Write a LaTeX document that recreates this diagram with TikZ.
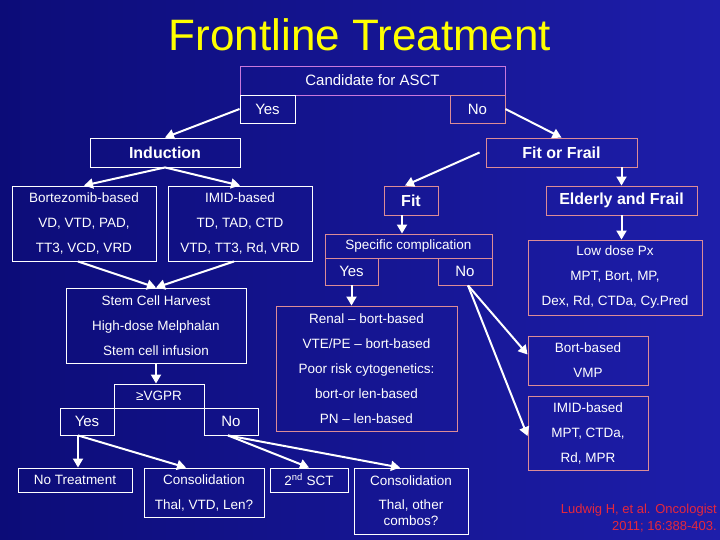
\documentclass[tikz,border=0pt]{standalone}
\usepackage{fontspec}
\setmainfont{Liberation Sans}
\usetikzlibrary{arrows.meta}
\definecolor{bgA}{RGB}{12,12,120}
\definecolor{bgB}{RGB}{30,30,170}
\definecolor{pinkb}{RGB}{220,140,150}
\definecolor{violb}{RGB}{200,120,220}
\definecolor{titley}{RGB}{255,255,0}
\definecolor{citer}{RGB}{230,40,60}
\tikzset{
 bx/.style={draw=white,line width=0.9pt,inner sep=0pt,text=white,align=center,font=\fontsize{13.5}{25}\selectfont},
 pb/.style={bx,draw=pinkb},
 bold/.style={font=\bfseries\fontsize{16}{20}\selectfont},
 arr/.style={draw=white,line width=2pt,-{Triangle[width=10pt,length=9pt]}}
}
\begin{document}
\begin{tikzpicture}[x=1pt,y=-1pt]
\useasboundingbox (0,0) rectangle (720,540);
\shade[left color=bgA,right color=bgB] (0,0) rectangle (720,540);
\node[text=titley,font=\fontsize{44}{48}\selectfont] (title) at (360,35) {Frontline Treatment};
% top
\node[bx,draw=violb,bold,font=\fontsize{15}{20}\selectfont,minimum width=265pt,minimum height=29pt] (cand) at (372.5,80.5) {Candidate for ASCT};
\node[bx,font=\fontsize{15}{20}\selectfont,minimum width=55pt,minimum height=28pt] (yes1) at (267.5,109) {Yes};
\node[pb,font=\fontsize{15}{20}\selectfont,minimum width=55pt,minimum height=28pt] (no1) at (477.5,109) {No};
\node[bx,bold,minimum width=150pt,minimum height=29pt] (ind) at (165,152.5) {Induction};
\node[pb,bold,minimum width=151pt,minimum height=29pt] (fof) at (561.5,152.5) {Fit or Frail};
\node[bx,minimum width=144pt,minimum height=75pt] (bort) at (84,223.5) {Bortezomib-based\\VD, VTD, PAD,\\TT3, VCD, VRD};
\node[bx,minimum width=144pt,minimum height=75pt] (imid) at (240,223.5) {IMID-based\\TD, TAD, CTD\\VTD, TT3, Rd, VRD};
\node[pb,bold,minimum width=54pt,minimum height=29pt] (fit) at (411,200.5) {Fit};
\node[pb,bold,minimum width=151pt,minimum height=29pt] (eld) at (621.5,200.5) {Elderly and Frail};
\node[pb,minimum width=167pt,minimum height=24pt] (spec) at (408.5,246) {Specific complication};
\node[pb,font=\fontsize{15}{20}\selectfont,minimum width=53pt,minimum height=27pt] (yes2) at (351.5,271.5) {Yes};
\node[pb,font=\fontsize{15}{20}\selectfont,minimum width=54pt,minimum height=27pt] (no2) at (465,271.5) {No};
\node[pb,minimum width=174pt,minimum height=75pt] (low) at (615,277.5) {Low dose Px\\MPT, Bort, MP,\\Dex, Rd, CTDa, Cy.Pred};
\node[bx,minimum width=180pt,minimum height=75pt] (stem) at (156,325.5) {Stem Cell Harvest\\High-dose Melphalan\\Stem cell infusion};
\node[pb,minimum width=181pt,minimum height=125pt] (renal) at (366.5,368.5) {Renal -- bort-based\\VTE/PE -- bort-based\\Poor risk cytogenetics:\\bort-or len-based\\PN -- len-based};
\node[bx,minimum width=90pt,minimum height=24pt] (vgpr) at (159,396) {≥VGPR};
\node[bx,font=\fontsize{15}{20}\selectfont,minimum width=54pt,minimum height=27pt] (yes3) at (87,421.5) {Yes};
\node[bx,font=\fontsize{15}{20}\selectfont,minimum width=54pt,minimum height=27pt] (no3) at (231,421.5) {No};
\node[pb,minimum width=120pt,minimum height=49pt] (bb) at (588,360.5) {Bort-based\\VMP};
\node[pb,minimum width=120pt,minimum height=74pt] (ib) at (588,433) {IMID-based\\MPT, CTDa,\\Rd, MPR};
\node[bx,minimum width=114pt,minimum height=24pt] (notr) at (75,480) {No Treatment};
\node[bx,minimum width=120pt,minimum height=49pt] (cons1) at (204,492.5) {Consolidation\\Thal, VTD, Len?};
\node[bx,minimum width=78pt,minimum height=24pt] (sct) at (309,480) {2\textsuperscript{nd} SCT};
\node[bx,font=\fontsize{13.5}{16}\selectfont,minimum width=114pt,minimum height=66pt] (cons2) at (411,501) {Consolidation\\[8pt]Thal, other\\combos?};
\node[text=citer,align=right,anchor=east,inner sep=0pt,font=\fontsize{13}{17}\selectfont] (cite) at (717,518) {Ludwig H, et al. Oncologist\\2011; 16:388-403.};
% arrows
\draw[arr] (yes1.west) -- (ind.north);
\draw[arr] (no1.east) -- (fof.north);
\draw[arr] (ind.south) -- (bort.north);
\draw[arr] (ind.south) -- (imid.north);
\draw[arr] ([xshift=-6pt]bort.south) -- (stem.north);
\draw[arr] ([xshift=-6pt]imid.south) -- (stem.north);
\draw[arr] ([xshift=-6pt]fof.west) -- ([xshift=-6pt]fit.north);
\draw[arr] (fof.south -| eld.north) -- (eld.north);
\draw[arr] (eld.south) -- (eld.south |- low.north);
\draw[arr] ([xshift=-9pt]fit.south) -- ([xshift=-9pt]fit.south |- spec.north);
\draw[arr] (yes2.south) -- (yes2.south |- renal.north);
\draw[arr] ([xshift=3pt]no2.south) -- ([yshift=6pt]bb.west);
\draw[arr] ([xshift=3pt]no2.south) -- ([yshift=-3pt]ib.west);
\draw[arr] (stem.south) -- (stem.south |- vgpr.north);
\draw[arr] ([xshift=-9pt]yes3.south) -- ([xshift=-9pt]yes3.south |- notr.north);
\draw[arr] ([xshift=-9pt]yes3.south) -- ([xshift=-18pt]cons1.north);
\draw[arr] ([xshift=-3pt]no3.south) -- (sct.north);
\draw[arr] ([xshift=-3pt]no3.south) -- ([xshift=-11pt]cons2.north);
\end{tikzpicture}
\end{document}
